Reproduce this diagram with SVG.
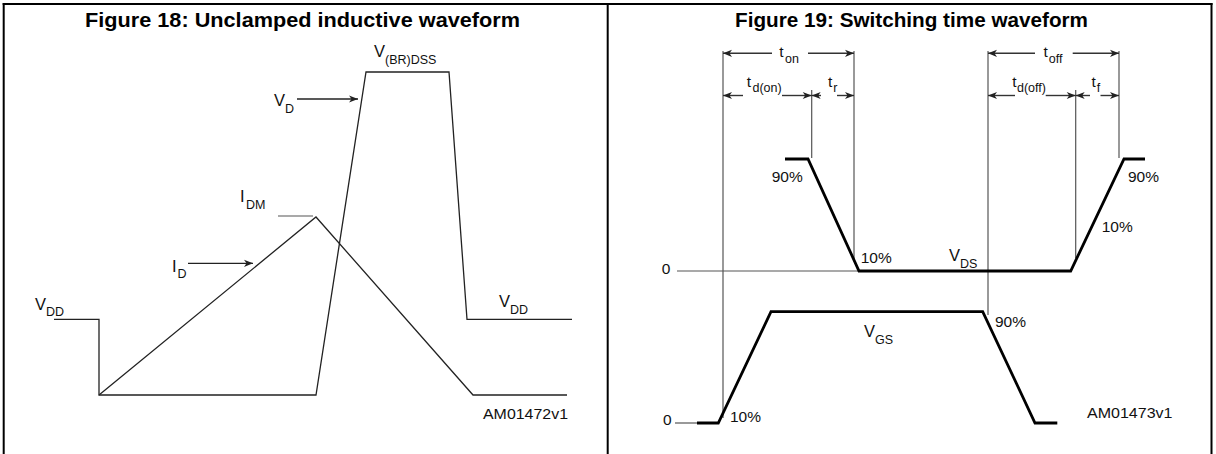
<svg xmlns="http://www.w3.org/2000/svg" width="1216" height="454" viewBox="0 0 1216 454">
<style>
.frame{stroke:#000;stroke-width:2;fill:none}
.title{font-family:"Liberation Sans",Arial,sans-serif;font-weight:bold;font-size:20px;fill:#000}
.lbl{font-family:"Liberation Sans",Arial,sans-serif;font-size:15.5px;fill:#111}
.big{font-size:16.5px}
.sub{font-size:12.5px}
.thin{stroke:#222;stroke-width:1.3;fill:none}
.gray{stroke:#555;stroke-width:1.2;fill:none}
.thick{stroke:#000;stroke-width:2.8;fill:none;stroke-linejoin:miter}
.dim{stroke:#333;stroke-width:1.4;fill:none}
</style>
<defs>
<marker id="ah" markerWidth="12" markerHeight="10" viewBox="-10 -5 12 10" refX="0" refY="0" orient="auto" markerUnits="userSpaceOnUse">
<path d="M0,0 L-9,-3.6 L-6.5,0 L-9,3.6 Z" fill="#222"/>
</marker>
</defs>
<rect width="1216" height="454" fill="#fff"/>
<g id="frame">
<line class="frame" x1="2.7" y1="4" x2="1212.5" y2="4"/>
<line class="frame" x1="3.7" y1="3" x2="3.7" y2="454"/>
<line class="frame" x1="607.7" y1="3" x2="607.7" y2="454"/>
<line class="frame" x1="1211.5" y1="3" x2="1211.5" y2="454"/>
</g>
<text class="title" x="85" y="27" textLength="435" lengthAdjust="spacingAndGlyphs">Figure 18: Unclamped inductive waveform</text>
<text class="title" x="735" y="27" textLength="353" lengthAdjust="spacingAndGlyphs">Figure 19: Switching time waveform</text>

<!-- Figure 18 -->
<g id="fig18-vd-waveform">
<polyline class="thin" points="54,319.3 99,319.3 99,395 316,395 366,72 449,72 467,319.3 572,319.3"/>
</g>
<g id="fig18-id-waveform">
<polyline class="thin" points="99,395 316,217 473,395 567,395"/>
<line class="gray" x1="278" y1="216" x2="313" y2="216"/>
</g>
<g id="fig18-connectors">
<line class="thin" x1="297" y1="99" x2="358" y2="99" marker-end="url(#ah)"/>
<line class="thin" x1="188" y1="263.3" x2="253" y2="263.3" marker-end="url(#ah)"/>
</g>
<g id="fig18-labels">
<text class="lbl" x="35" y="310"><tspan class="big">V</tspan><tspan class="sub" dy="5.5">DD</tspan></text>
<text class="lbl" x="274" y="106"><tspan class="big">V</tspan><tspan class="sub" dy="6.5">D</tspan></text>
<text class="lbl" x="374" y="57"><tspan class="big">V</tspan><tspan class="sub" dy="7">(BR)DSS</tspan></text>
<text class="lbl" x="240" y="202"><tspan class="big">I</tspan><tspan class="sub" dx="1.5" dy="7">DM</tspan></text>
<text class="lbl" x="172" y="272"><tspan class="big">I</tspan><tspan class="sub" dx="1" dy="6">D</tspan></text>
<text class="lbl" x="499" y="307"><tspan class="big">V</tspan><tspan class="sub" dy="7">DD</tspan></text>
<text class="lbl" x="483" y="419" textLength="85" lengthAdjust="spacingAndGlyphs">AM01472v1</text>
</g>

<!-- Figure 19 -->
<g id="fig19-guides">
<line class="gray" x1="723" y1="51" x2="723" y2="418"/>
<line class="gray" x1="854" y1="51" x2="854" y2="260"/>
<line class="gray" x1="811.7" y1="90" x2="811.7" y2="158"/>
<line class="gray" x1="988" y1="51" x2="988" y2="315"/>
<line class="gray" x1="1075.7" y1="90" x2="1075.7" y2="258"/>
<line class="gray" x1="1119" y1="51" x2="1119" y2="158"/>
<line class="gray" x1="677" y1="271" x2="859" y2="271"/>
<line class="gray" x1="675" y1="423" x2="697" y2="423"/>
</g>
<g id="fig19-vds-waveform">
<polyline class="thick" points="785,159 808,159 859,271 1070.7,271 1124,159 1145,159"/>
</g>
<g id="fig19-vgs-waveform">
<polyline class="thick" points="697,423 718.3,423 771,311.7 982.7,311.7 1035,423 1057.3,423"/>
</g>
<g id="fig19-connectors">
<line class="dim" x1="772" y1="53.3" x2="723" y2="53.3" marker-end="url(#ah)"/>
<line class="dim" x1="808" y1="53.3" x2="854" y2="53.3" marker-end="url(#ah)"/>
<line class="dim" x1="1035" y1="53.3" x2="988" y2="53.3" marker-end="url(#ah)"/>
<line class="dim" x1="1072.7" y1="53.3" x2="1119" y2="53.3" marker-end="url(#ah)"/>
<line class="dim" x1="743" y1="95.5" x2="723" y2="95.5" marker-end="url(#ah)"/>
<line class="dim" x1="782" y1="95.5" x2="811.7" y2="95.5" marker-end="url(#ah)"/>
<line class="dim" x1="821" y1="95.5" x2="811.7" y2="95.5" marker-end="url(#ah)"/>
<line class="dim" x1="837" y1="95.5" x2="854" y2="95.5" marker-end="url(#ah)"/>
<line class="dim" x1="1015" y1="95.5" x2="988" y2="95.5" marker-end="url(#ah)"/>
<line class="dim" x1="1045.7" y1="95.5" x2="1075.7" y2="95.5" marker-end="url(#ah)"/>
<line class="dim" x1="1090" y1="95.5" x2="1075.7" y2="95.5" marker-end="url(#ah)"/>
<line class="dim" x1="1100.5" y1="95.5" x2="1119" y2="95.5" marker-end="url(#ah)"/>
</g>
<g id="fig19-labels">
<text class="lbl" x="779.3" y="56.5">t<tspan class="sub" dx="1.5" dy="6">on</tspan></text>
<text class="lbl" x="1043.5" y="56.5">t<tspan class="sub" dx="1" dy="6">off</tspan></text>
<text class="lbl" x="746.7" y="86.5">t<tspan class="sub" dx="1.5" dy="5.5" font-size="11.5">d(on)</tspan></text>
<text class="lbl" x="828" y="86.5">t<tspan class="sub" dx="1" dy="5.5" font-size="11.5">r</tspan></text>
<text class="lbl" x="1012.2" y="86.5">t<tspan class="sub" dx="0.5" dy="5.5" font-size="11.5">d(off)</tspan></text>
<text class="lbl" x="1091.5" y="86.5">t<tspan class="sub" dx="1" dy="5.5" font-size="11.5">f</tspan></text>
<text class="lbl" x="771.7" y="181.7">90%</text>
<text class="lbl" x="860.7" y="263">10%</text>
<text class="lbl" x="661.7" y="274.3">0</text>
<text class="lbl" x="663" y="425">0</text>
<text class="lbl" x="949" y="261"><tspan class="big">V</tspan><tspan class="sub" dy="7">DS</tspan></text>
<text class="lbl" x="1128" y="182">90%</text>
<text class="lbl" x="1101.7" y="231.5">10%</text>
<text class="lbl" x="864" y="337"><tspan class="big">V</tspan><tspan class="sub" dy="6.5">GS</tspan></text>
<text class="lbl" x="995" y="327">90%</text>
<text class="lbl" x="730" y="421.5">10%</text>
<text class="lbl" x="1087" y="418" textLength="85.5" lengthAdjust="spacingAndGlyphs">AM01473v1</text>
</g>
</svg>
